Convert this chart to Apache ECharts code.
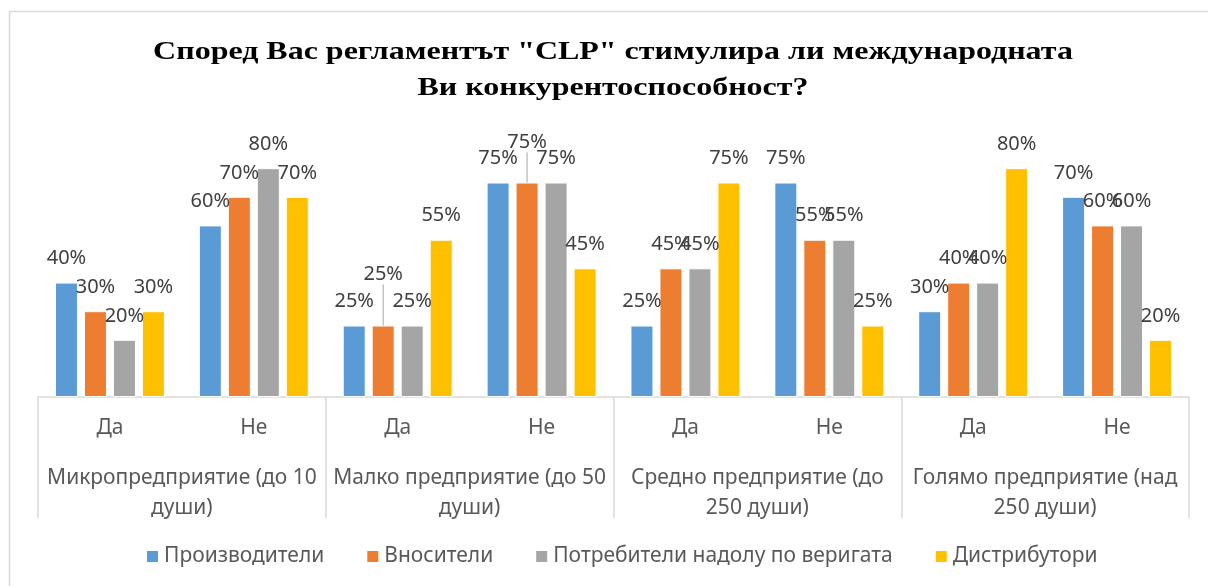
<!DOCTYPE html>
<html>
<head>
    <meta charset="utf-8">
    <script type="text/javascript" src="https://cdn.jsdelivr.net/npm/echarts@6/dist/echarts.min.js"></script>
    <style>
        html, body { margin: 0; padding: 0; background: #fff; }
    </style>
</head>
<body>

<div id="main" style="width: 1208px;height:586px;"></div>

<script type="text/javascript">

    // данни
    var answers = ['Да', 'Не', 'Да', 'Не', 'Да', 'Не', 'Да', 'Не'];
    var groups = ['Микропредприятие (до 10\nдуши)', 'Малко предприятие (до 50\nдуши)', 'Средно предприятие (до\n250 души)', 'Голямо предприятие (над\n250 души)'];
    var seriesNames = ['Производители', 'Вносители', 'Потребители надолу по веригата', 'Дистрибутори'];
    var producers = [40, 60, 25, 75, 25, 75, 30, 70];
    var importers = [30, 70, 25, 75, 45, 55, 40, 60];
    var downstream = [20, 80, 25, 75, 45, 55, 40, 60];
    var distributors = [30, 70, 55, 45, 75, 25, 80, 20];
    var titleText = 'Според Вас регламентът "CLP" стимулира ли международната\nВи конкурентоспособност?';

    var colors = ['#5B9BD5', '#ED7D31', '#A5A5A5', '#FFC000'];
    var allData = [producers, importers, downstream, distributors];

    // етикети, които Excel е преместил нагоре
    var moved = { '1-2': -27, '1-3': -16 };

    var myChart = echarts.init(document.getElementById('main'));

    var series = seriesNames.map(function (name, i) {
        return {
            name: name,
            type: 'bar',
            xAxisIndex: 0,
            data: allData[i].map(function (v, j) {
                if (moved[i + '-' + j]) {
                    return { value: v, labelLine: { show: true } };
                }
                return v;
            }),
            barWidth: 23,
            barGap: '26%',
            itemStyle: { color: colors[i], borderColor: '#fff', borderWidth: 1 },
            label: {
                show: true,
                position: 'top',
                distance: 14,
                formatter: '{c}%',
                fontFamily: 'Noto Sans',
                fontSize: 20,
                color: '#404040'
            },
            labelLine: { show: false, lineStyle: { color: '#a6a6a6', width: 1 } },
            labelLayout: function (p) {
                var k = p.seriesIndex + '-' + p.dataIndex;
                if (moved[k]) return { dy: moved[k] };
                return {};
            }
        };
    });

    var option = {
        animation: false,
        color: colors,
        graphic: [{
            type: 'rect',
            shape: { x: 9.5, y: 11.5, width: 1220, height: 600 },
            style: { fill: 'none', stroke: '#d9d9d9', lineWidth: 1.5 },
            silent: true
        }, {
            type: 'text',
            x: 613,
            y: 34,
            scaleX: 1.23,
            silent: true,
            style: {
                text: titleText,
                align: 'center',
                verticalAlign: 'top',
                fontFamily: 'Liberation Serif',
                fontWeight: 'bold',
                fontSize: 26,
                lineHeight: 36,
                fill: '#000'
            }
        }],
        legend: {
            data: seriesNames,
            bottom: 14,
            left: 140,
            itemWidth: 13,
            itemHeight: 13,
            itemGap: 41,
            icon: 'rect',
            textStyle: { fontFamily: 'Noto Sans', fontSize: 21, color: '#595959' }
        },
        grid: { left: 38, right: 19, top: 111, bottom: 189 },
        xAxis: [{
            type: 'category',
            data: answers,
            position: 'bottom',
            axisLine: { show: true, lineStyle: { color: '#d9d9d9', width: 1.5 } },
            axisTick: { show: false },
            axisLabel: {
                interval: 0,
                margin: 21,
                fontFamily: 'Noto Sans',
                fontSize: 21,
                color: '#595959'
            }
        }, {
            type: 'category',
            data: groups,
            position: 'bottom',
            axisLine: { show: false },
            axisTick: { show: true, interval: 0, length: 121, lineStyle: { color: '#d9d9d9', width: 1.5 } },
            axisLabel: {
                interval: 0,
                margin: 66,
                lineHeight: 30,
                align: 'center',
                fontFamily: 'Noto Sans',
                fontSize: 21,
                color: '#595959'
            }
        }],
        yAxis: {
            type: 'value',
            min: 0,
            max: 100,
            show: false,
            splitLine: { show: false }
        },
        series: series
    };

    myChart.setOption(option);
</script>

</body>
</html>
